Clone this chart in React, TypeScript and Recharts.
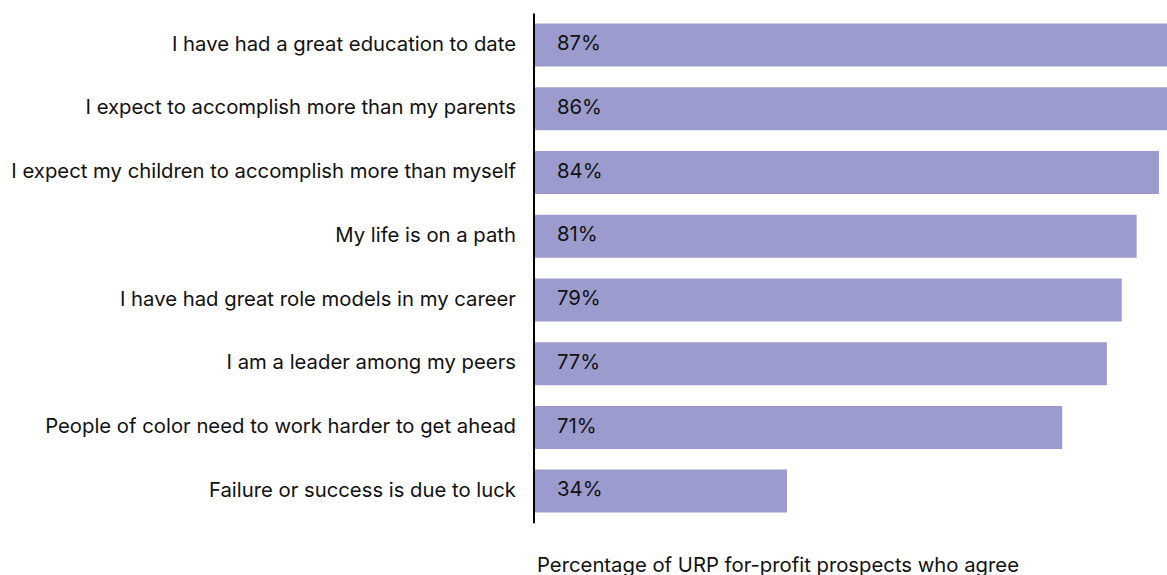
import { Bar, BarChart, LabelList, XAxis, YAxis } from "recharts";

const statements = [
  "I have had a great education to date",
  "I expect to accomplish more than my parents",
  "I expect my children to accomplish more than myself",
  "My life is on a path",
  "I have had great role models in my career",
  "I am a leader among my peers",
  "People of color need to work harder to get ahead",
  "Failure or success is due to luck",
];
const agreePct = [87, 86, 84, 81, 79, 77, 71, 34];
const axisTitle = "Percentage of URP for-profit prospects who agree";

const data = statements.map((statement, i) => ({ statement, value: agreePct[i] }));

const FONT = "Inter, 'Noto Sans', sans-serif";
const TEXT = "#111";
const FS = 20.3;

const App = () => {
  return (
    <div
      style={{
        position: "absolute",
        left: 0,
        top: 0,
        width: 1167,
        height: 575,
        overflow: "hidden",
        background: "#fff",
        fontFamily: FONT,
      }}
    >
      <BarChart
        width={1278}
        height={575}
        data={data}
        layout="vertical"
        margin={{ top: 13.6, right: 0, bottom: 0, left: 0 }}
        barCategoryGap={20.7}
      >
        <XAxis
          type="number"
          domain={[0, 100]}
          height={51.7}
          axisLine={false}
          tickLine={false}
          tick={false}
          label={{
            value: axisTitle,
            position: "insideBottomLeft",
            offset: 3,
            fill: TEXT,
            fontSize: FS,
            fontFamily: FONT,
          }}
        />
        <YAxis
          type="category"
          dataKey="statement"
          width={534}
          axisLine={{ stroke: "#000", strokeWidth: 2 }}
          tickLine={false}
          tickSize={0}
          tickMargin={18}
          tick={{ fill: TEXT, fontSize: FS, fontFamily: FONT, dy: -2 }}
          interval={0}
        />
        <Bar dataKey="value" fill="#9b9ccd" barSize={43} isAnimationActive={false}>
          <LabelList
            dataKey="value"
            position="insideLeft"
            offset={23}
            formatter={(v: number) => `${v}%`}
            fill={TEXT}
            fontSize={FS}
            fontFamily={FONT}
            dy={-2}
          />
        </Bar>
      </BarChart>
    </div>
  );
};

export default App;
